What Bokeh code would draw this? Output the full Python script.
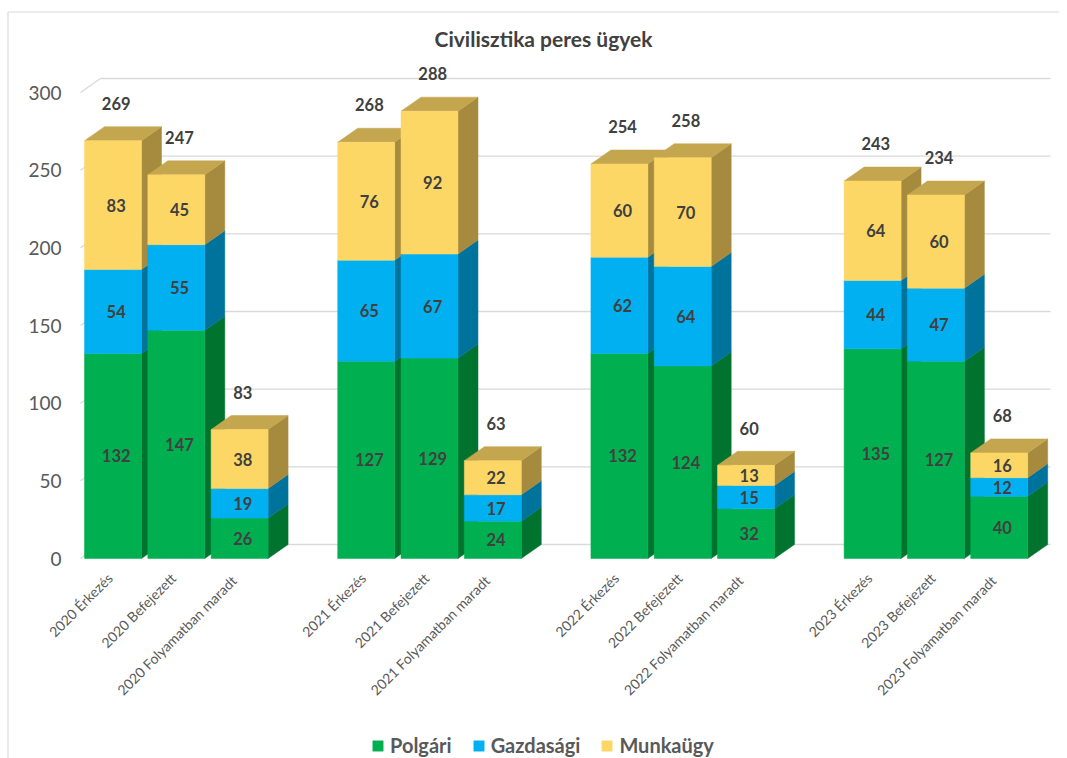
import math
from bokeh.plotting import figure
from bokeh.models import Range1d, Legend, LegendItem, ColumnDataSource
from bokeh.core.properties import value
from bokeh.embed import file_html
from bokeh.resources import INLINE

# ---- data ----
title_text = "Civilisztika peres ügyek"
categories = ["2020 Érkezés", "2020 Befejezett", "2020  Folyamatban maradt",
              "2021 Érkezés", "2021 Befejezett", "2021  Folyamatban maradt",
              "2022 Érkezés", "2022 Befejezett", "2022  Folyamatban maradt",
              "2023 Érkezés", "2023 Befejezett", "2023  Folyamatban maradt"]
group_index = [0, 0, 0, 1, 1, 1, 2, 2, 2, 3, 3, 3]
slot_in_group = [0, 1, 2, 0, 1, 2, 0, 1, 2, 0, 1, 2]
series_names = ["Polgári", "Gazdasági", "Munkaügy"]
polgari = [132, 147, 26, 127, 129, 24, 132, 124, 32, 135, 127, 40]
gazdasagi = [54, 55, 19, 65, 67, 17, 62, 64, 15, 44, 47, 12]
munkaugy = [83, 45, 38, 76, 92, 22, 60, 70, 13, 64, 60, 16]
totals = [269, 247, 83, 268, 288, 63, 254, 258, 60, 243, 234, 68]
y_ticks = [0, 50, 100, 150, 200, 250, 300]

# ---- style / layout ----
FONT = "Lato"
front_colors = ["#00B050", "#00B0F0", "#FDD766"]
side_colors = ["#00732F", "#00739D", "#A68B3E"]
top_color = "#C4A64F"
grid_color = "#D9D9D9"
text_dark = "#404040"
text_axis = "#595959"

W, H = 1059, 758
SX = 63.3      # pixels per x unit (one bar slot)
SY = 1.5533    # pixels per y unit
ZERO_PX = 558  # pixel row of the value 0
FIRST_PX = 112.5  # pixel column of the first bar centre

pos = [g * 4 + s for g, s in zip(group_index, slot_in_group)]
bar_w = 0.9
dx = 20 / SX   # depth offset in x data units
dy = 14 / SY   # depth offset in y data units

x0 = -FIRST_PX / SX
x1 = x0 + W / SX
y1 = ZERO_PX / SY
y0 = -(H - ZERO_PX) / SY


def px(xp):
    return x0 + xp / SX


def py(yp):
    return (ZERO_PX - yp) / SY


p = figure(width=W, height=H, output_backend="svg", toolbar_location=None,
           x_range=Range1d(x0, x1), y_range=Range1d(y0, y1),
           min_border=0)
p.outline_line_color = None
p.xgrid.visible = False
p.ygrid.visible = False
p.xaxis.visible = False
p.yaxis.visible = False
p.background_fill_color = "white"
p.border_fill_color = "white"

# chart-area border (left and top edges visible)
p.segment(x0=[px(7.5), px(7.5)], y0=[py(11.5), py(11.5)],
          x1=[px(7.5), x1], y1=[y0, py(11.5)], line_color=grid_color, line_width=1.2)

# title
p.text(x=[px(543)], y=[py(38)], text=[title_text], text_font=value(FONT),
       text_font_size="21px", text_font_style="bold", text_color=text_dark,
       text_align="center", text_baseline="middle")

# back-wall gridlines + diagonal ticks
gx0 = px(80)
gx1 = px(1050)
p.segment(x0=[gx0 + dx] * len(y_ticks), y0=[v + dy for v in y_ticks],
          x1=[gx1] * len(y_ticks), y1=[v + dy for v in y_ticks],
          line_color=grid_color, line_width=1.3)
p.segment(x0=[gx0] * len(y_ticks), y0=y_ticks,
          x1=[gx0 + dx] * len(y_ticks), y1=[v + dy for v in y_ticks],
          line_color=grid_color, line_width=1.3)

# y tick labels
p.text(x=[px(61)] * len(y_ticks), y=y_ticks, text=[str(v) for v in y_ticks],
       text_font=value(FONT), text_font_size="19px", text_color=text_axis,
       text_align="right", text_baseline="middle")

series = [polgari, gazdasagi, munkaugy]
bottoms = []
tops = []
acc = [0] * len(pos)
for s in series:
    b = list(acc)
    t = [a + v for a, v in zip(acc, s)]
    bottoms.append(b)
    tops.append(t)
    acc = t

# side faces
for k in range(3):
    xs, ys = [], []
    for i, x in enumerate(pos):
        r = x + bar_w / 2
        b, t = bottoms[k][i], tops[k][i]
        xs.append([r, r + dx, r + dx, r])
        ys.append([b, b + dy, t + dy, t])
    p.patches(xs, ys, fill_color=side_colors[k], line_color=side_colors[k], line_width=0.5)

# top faces
txs, tys = [], []
for i, x in enumerate(pos):
    l, r = x - bar_w / 2, x + bar_w / 2
    T = tops[2][i]
    txs.append([l, l + dx, r + dx, r])
    tys.append([T, T + dy, T + dy, T])
p.patches(txs, tys, fill_color=top_color, line_color=top_color, line_width=0.5)

# front faces
front_renderers = []
for k in range(3):
    src = ColumnDataSource(dict(x=pos, bottom=bottoms[k], top=tops[k]))
    r = p.vbar(x="x", width=bar_w, bottom="bottom", top="top", source=src,
               fill_color=front_colors[k], line_color=front_colors[k], line_width=0.5)
    front_renderers.append(r)

# segment labels
for k in range(3):
    mids = [(b + t) / 2 for b, t in zip(bottoms[k], tops[k])]
    p.text(x=[x + 0.05 for x in pos], y=mids, text=[str(v) for v in series[k]],
           text_font=value(FONT), text_font_size="16.5px", text_font_style="bold",
           text_color=text_dark, text_align="center", text_baseline="middle")

# total labels
p.text(x=[x + 0.05 for x in pos], y=[t + 24 for t in totals], text=[str(v) for v in totals],
       text_font=value(FONT), text_font_size="16.5px", text_font_style="bold",
       text_color=text_dark, text_align="center", text_baseline="middle")

# category labels (rotated, right end under each bar)
p.text(x=[x - 0.05 for x in pos], y=[-11] * len(pos), text=categories,
       angle=math.pi / 4, text_font=value(FONT), text_font_size="14px",
       text_color=text_axis, text_align="right", text_baseline="middle")

legend = Legend(items=[LegendItem(label=n, renderers=[r]) for n, r in zip(series_names, front_renderers)],
                orientation="horizontal", location=(371, 1))
legend.border_line_color = None
legend.background_fill_alpha = 0
legend.label_text_font = FONT
legend.label_text_font_size = "20px"
legend.label_text_font_style = "bold"
legend.label_text_color = text_axis
legend.glyph_width = 13
legend.glyph_height = 13
legend.spacing = 20
legend.label_standoff = 6
legend.margin = 0
legend.padding = 4
p.add_layout(legend, "center")

open("out.html", "w").write(file_html(p, INLINE))
